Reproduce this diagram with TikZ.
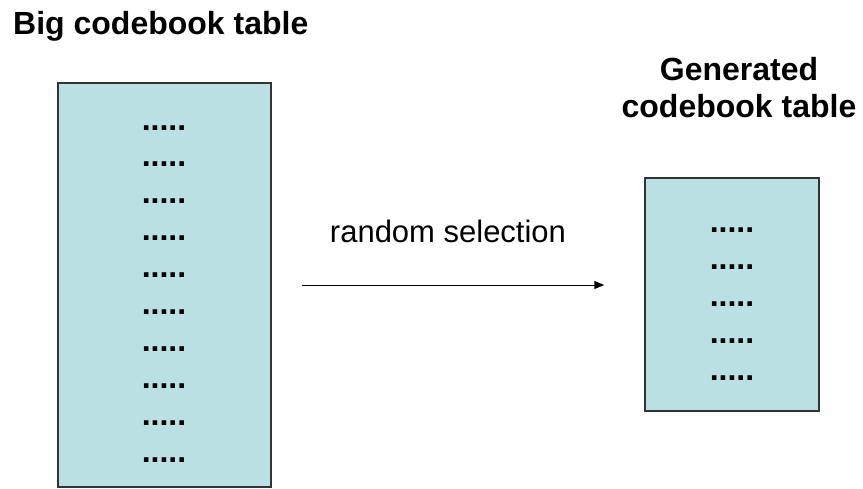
\documentclass[tikz,border=0pt]{standalone}
\usepackage{fontspec}
\setmainfont{Liberation Sans}
\usetikzlibrary{arrows.meta}

\definecolor{tablefill}{RGB}{186,224,227}
\definecolor{tableedge}{RGB}{51,51,51}

\tikzset{
  codebook/.style={
    draw=tableedge,
    fill=tablefill,
    line width=1.5pt,
    inner sep=0pt
  },
  entry/.style={
    font=\fontsize{32}{37}\selectfont\bfseries,
    anchor=base,
    inner sep=0pt
  },
  heading/.style={
    font=\fontsize{32}{37}\selectfont\bfseries,
    inner sep=0pt
  },
  caption/.style={
    font=\fontsize{31}{36}\selectfont,
    anchor=base,
    inner sep=0pt
  }
}

\begin{document}
\begin{tikzpicture}[x=1pt, y=-1pt]
  \useasboundingbox (0,0) rectangle (863,488);
  \node[codebook, minimum width=213pt, minimum height=404pt] at (164.5,285) (bigtable) {};
  \node[codebook, minimum width=174pt, minimum height=233pt] at (732,294.5) (gentable) {};
  \foreach \row in {0,...,9}
    \node[entry] at (164,130+36.9*\row) (bigentry\row) {.....};
  \foreach \row in {0,...,4}
    \node[entry] at (732,232+37*\row) (genentry\row) {.....};
  \node[heading, anchor=base west] at (13,34) (bigtitle) {Big codebook table};
  \node[heading, align=center, anchor=base] at (739,117) (gentitle) {Generated\\codebook table};
  \draw[-{Triangle[length=10pt,width=8pt]}, line width=1pt, shorten <=30pt, shorten >=40pt]
    (bigtable.east) -- (bigtable.east -| gentable.west);
  \node[caption] at (448,242) (selection) {random selection};
\end{tikzpicture}
\end{document}
